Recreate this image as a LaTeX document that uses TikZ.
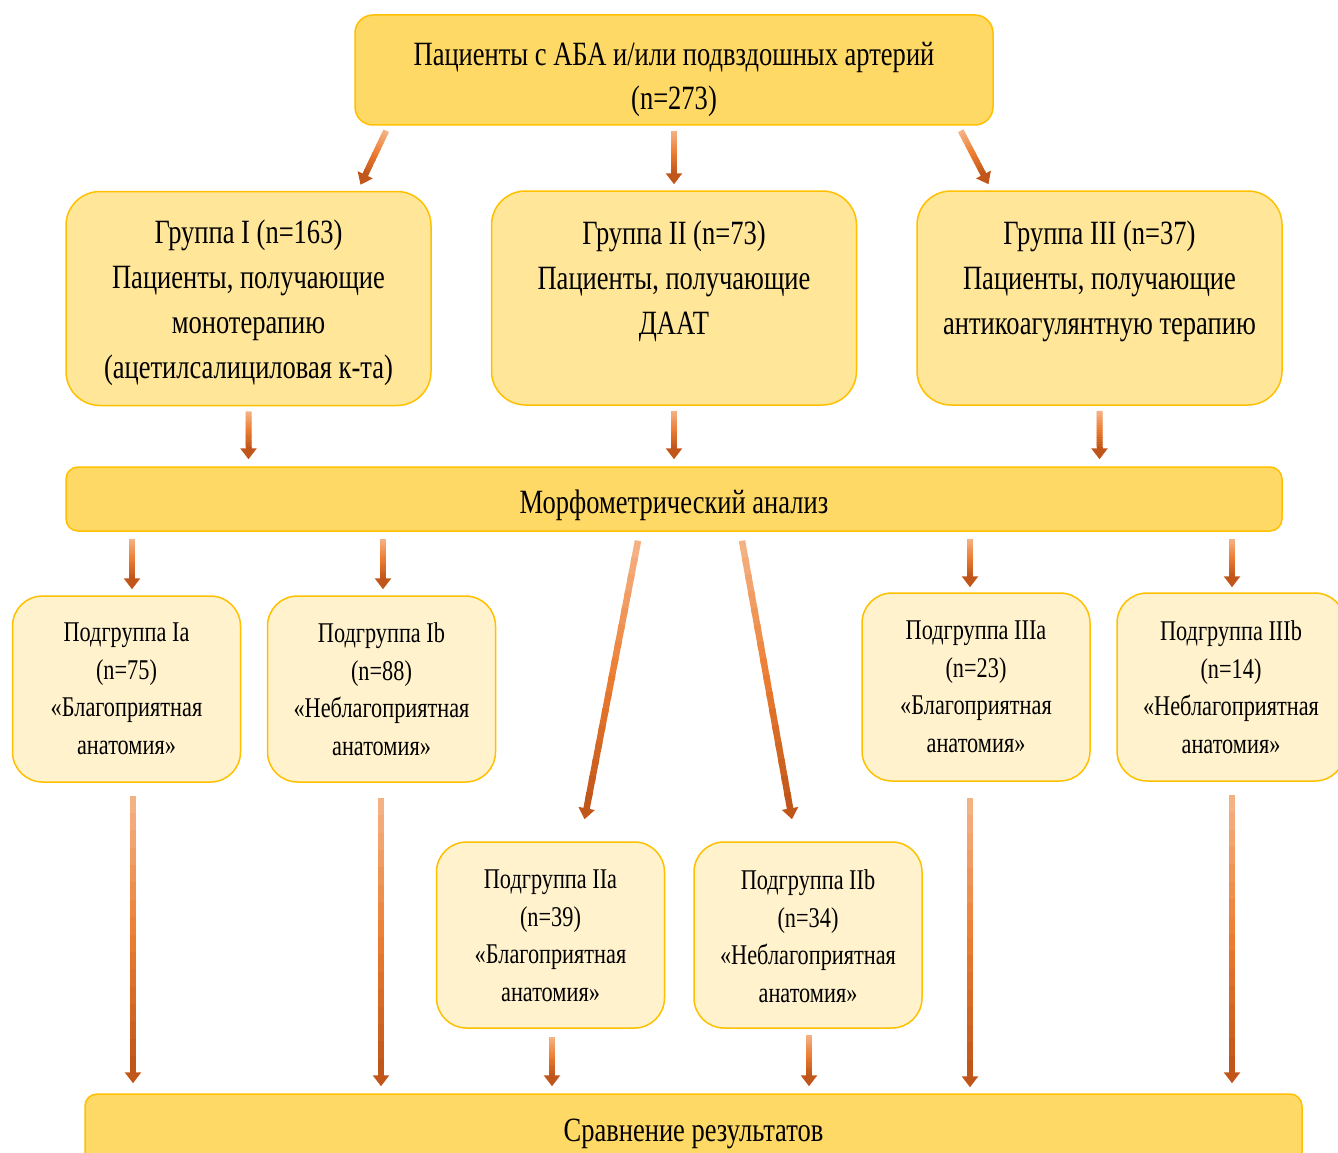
\documentclass[tikz,border=0pt]{standalone}
\usepackage{fontspec}
\setmainfont{Liberation Serif}[FakeStretch=0.78]
\usetikzlibrary{calc,arrows.meta}
\definecolor{gold}{HTML}{FFD966}
\definecolor{goldlt}{HTML}{FFE699}
\definecolor{cream}{HTML}{FFF2CC}
\definecolor{edgec}{HTML}{FFC000}
\definecolor{arrlt}{HTML}{F4B183}
\definecolor{arrmid}{HTML}{ED7D31}
\definecolor{arrdk}{HTML}{C0561A}
% gradient arrow: #1 line width, #2 start coordinate name, #3 end coordinate name
\newcommand\garrow[3][6]{%
  \coordinate (gaE) at ($(#3)!10pt!(#2)$);
  \foreach \i in {0,...,15}{%
    \pgfmathsetmacro\ta{\i/16}%
    \pgfmathsetmacro\tb{min(1,(\i+1)/16+0.02)}%
    \pgfmathtruncatemacro\m{200*\i/15}%
    \ifnum\m<100 \def\gcol{arrmid!\m!arrlt}\else\pgfmathtruncatemacro\mm{\m-100}\def\gcol{arrdk!\mm!arrmid}\fi
    \draw[line width=#1pt, draw=\gcol] ($(#2)!\ta!(gaE)$) -- ($(#2)!\tb!(gaE)$);}
  \draw[line width=#1pt, arrdk, -{Triangle[length=11pt,width=16pt]}] ($(gaE)!-1pt!(#3)$) -- (#3);
}
\begin{document}
\begin{tikzpicture}[x=1pt,y=-1pt,
  boxbase/.style={draw=edgec, line width=1.5pt, inner sep=0pt},
  mainbox/.style={boxbase, fill=gold, rounded corners=18pt},
  grpbox/.style={boxbase, fill=goldlt, rounded corners=34pt, minimum width=365pt, minimum height=214pt},
  subbox/.style={boxbase, fill=cream, rounded corners=30pt, minimum width=228pt, minimum height=186pt},
  bigtxt/.style={align=center, inner sep=0pt, font=\fontsize{34}{45}\selectfont},
  subtxt/.style={align=center, inner sep=0pt, font=\fontsize{28.6}{37.5}\selectfont}]
\useasboundingbox (0,0) rectangle (1338,1153);
\clip (0,0) rectangle (1338,1153);

\node[mainbox, minimum width=638pt, minimum height=110pt] (top) at (674,70) {};
\node[bigtxt, font=\fontsize{34}{44}\selectfont] (topT) at ($(top)+(0,9)$) {Пациенты с АБА и/или подвздошных артерий\\(n=273)};

\node[grpbox] (g1) at (248.5,298.5) {};
\node[grpbox] (g2) at (674,298) {};
\node[grpbox] (g3) at (1099.5,298) {};
\node[bigtxt] (g1T) at ($(g1)+(0,4)$) {Группа I (n=163)\\Пациенты, получающие\\монотерапию\\(ацетилсалициловая к-та)};
\node[bigtxt, anchor=north] (g2T) at ($(g1T.north -| g2)+(0,1.5)$) {Группа II (n=73)\\Пациенты, получающие\\ДААТ};
\node[bigtxt, anchor=north] (g3T) at ($(g1T.north -| g3)+(0,1.5)$) {Группа III (n=37)\\Пациенты, получающие\\антикоагулянтную терапию};

\node[mainbox, rounded corners=12pt, minimum width=1216pt, minimum height=64pt] (morph) at (674,499) {};
\node[bigtxt] (morphT) at ($(morph)+(0,6)$) {Морфометрический анализ};

\node[subbox] (ia) at (126.5,689) {};
\node[subbox] (ib) at (381.5,689) {};
\node[subbox] (iia) at (550.5,935) {};
\node[subbox] (iib) at (808,935) {};
\node[subbox, minimum height=188pt] (iiia) at (976,687) {};
\node[subbox, minimum height=188pt] (iiib) at (1231,687) {};
\node[subtxt] (iaT) at (ia) {Подгруппа Ia\\(n=75)\\«Благоприятная\\анатомия»};
\node[subtxt] (ibT) at (ib) {Подгруппа Ib\\(n=88)\\«Неблагоприятная\\анатомия»};
\node[subtxt] (iiaT) at ($(iia)+(0,1)$) {Подгруппа IIa\\(n=39)\\«Благоприятная\\анатомия»};
\node[subtxt] (iibT) at ($(iib)+(0,1)$) {Подгруппа IIb\\(n=34)\\«Неблагоприятная\\анатомия»};
\node[subtxt] (iiiaT) at (iiia) {Подгруппа IIIa\\(n=23)\\«Благоприятная\\анатомия»};
\node[subtxt] (iiibT) at (iiib) {Подгруппа IIIb\\(n=14)\\«Неблагоприятная\\анатомия»};

\node[mainbox, rounded corners=12pt, minimum width=1217pt, minimum height=76pt] (bot) at (693.5,1132) {};
\node[bigtxt] (botT) at ($(bot)+(0,2)$) {Сравнение результатов};

% arrow end points
\coordinate (s1) at ($(top.south west)+(32,5)$);   \coordinate (e1) at ($(g1.north)+(112,-6)$);
\coordinate (s2) at ($(top.south)+(0,5)$);         \coordinate (e2) at ($(g2.north)+(0,-6)$);
\coordinate (s3) at ($(top.south east)+(-33,5)$);  \coordinate (e3) at ($(g3.north)+(-111,-6)$);
\garrow{s1}{e1}\garrow{s2}{e2}\garrow{s3}{e3}

\coordinate (s4) at ($(g1.south)+(0,5)$); \coordinate (e4) at ($(g1.south |- morph.north)+(0,-7)$);
\coordinate (s5) at ($(g2.south)+(0,5)$); \coordinate (e5) at ($(g2.south |- morph.north)+(0,-7)$);
\coordinate (s6) at ($(g3.south)+(0,5)$); \coordinate (e6) at ($(g3.south |- morph.north)+(0,-7)$);
\garrow{s4}{e4}\garrow{s5}{e5}\garrow{s6}{e6}

\coordinate (s7) at ($(ia.north |- morph.south)+(5.5,7)$);  \coordinate (e7) at ($(ia.north)+(5.5,-6)$);
\coordinate (s8) at ($(ib.north |- morph.south)+(1.5,7)$);  \coordinate (e8) at ($(ib.north)+(1.5,-6)$);
\coordinate (s9) at ($(morph.south)+(-36,9)$);              \coordinate (e9) at ($(iia.north)+(34,-22)$);
\coordinate (s10) at ($(morph.south)+(68,9)$);              \coordinate (e10) at ($(iib.north)+(-16,-22)$);
\coordinate (s11) at ($(iiia.north |- morph.south)+(-6,7)$); \coordinate (e11) at ($(iiia.north)+(-6,-5)$);
\coordinate (s12) at ($(iiib.north |- morph.south)+(1,7)$);  \coordinate (e12) at ($(iiib.north)+(1,-5)$);
\garrow{s7}{e7}\garrow{s8}{e8}\garrow[6.5]{s9}{e9}\garrow[6.5]{s10}{e10}\garrow{s11}{e11}\garrow{s12}{e12}

\coordinate (s13) at ($(ia.south)+(6.5,13)$);   \coordinate (e13) at ($(ia.south |- bot.north)+(6.5,-10)$);
\coordinate (s14) at ($(ib.south)+(-0.5,15)$);  \coordinate (e14) at ($(ib.south |- bot.north)+(-0.5,-7)$);
\coordinate (s15) at ($(iia.south)+(1.5,8)$);   \coordinate (e15) at ($(iia.south |- bot.north)+(1.5,-7)$);
\coordinate (s16) at ($(iib.south)+(1,6)$);     \coordinate (e16) at ($(iib.south |- bot.north)+(1,-7)$);
\coordinate (s17) at ($(iiia.south)+(-6,16)$);  \coordinate (e17) at ($(iiia.south |- bot.north)+(-6,-6)$);
\coordinate (s18) at ($(iiib.south)+(1,13)$);   \coordinate (e18) at ($(iiib.south |- bot.north)+(1,-10)$);
\garrow[6.5]{s13}{e13}\garrow[6.5]{s14}{e14}\garrow{s15}{e15}\garrow{s16}{e16}\garrow[6.5]{s17}{e17}\garrow[6.5]{s18}{e18}
\end{tikzpicture}
\end{document}
